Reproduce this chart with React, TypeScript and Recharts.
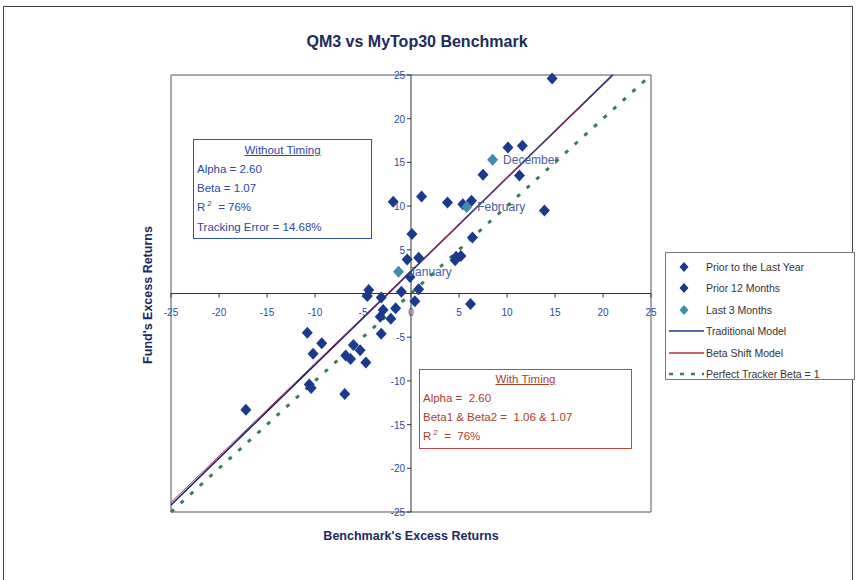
import { ScatterChart, Scatter, XAxis, YAxis, ReferenceLine, Legend, LabelList } from 'recharts';

const axisTicks = [-25, -20, -15, -10, -5, 0, 5, 10, 15, 20, 25];

// Points (benchmark excess return, fund excess return)
const priorLastYear = [
  { x: 1.1, y: 11.1 }, { x: 3.8, y: 10.4 }, { x: 6.3, y: 10.6 }, { x: 0.1, y: 6.8 },
  { x: 4.7, y: 4.2 }, { x: 5.2, y: 4.3 }, { x: 4.6, y: 3.8 }, { x: 0.8, y: 4.1 },
  { x: -0.4, y: 3.9 }, { x: -0.1, y: 1.9 }, { x: 0.8, y: 0.5 }, { x: -1.0, y: 0.2 },
  { x: 0.4, y: -0.9 }, { x: -4.4, y: 0.4 }, { x: -4.55, y: -0.3 }, { x: -3.1, y: -0.45 },
  { x: -1.6, y: -1.7 }, { x: -2.9, y: -1.9 }, { x: -2.1, y: -2.9 }, { x: -3.2, y: -2.65 },
  { x: -3.1, y: -4.6 }, { x: -10.8, y: -4.5 }, { x: -10.2, y: -6.9 }, { x: -9.3, y: -5.7 },
  { x: -6.0, y: -5.9 }, { x: -6.8, y: -7.1 }, { x: -6.3, y: -7.5 }, { x: -5.3, y: -6.5 },
  { x: -4.7, y: -7.9 }, { x: -10.6, y: -10.4 }, { x: -10.4, y: -10.8 }, { x: -6.9, y: -11.5 },
  { x: -17.2, y: -13.3 }, { x: -1.85, y: 10.5 },
];
const prior12Months = [
  { x: 14.7, y: 24.6 }, { x: 10.1, y: 16.7 }, { x: 11.6, y: 16.9 }, { x: 7.5, y: 13.6 },
  { x: 11.3, y: 13.5 }, { x: 5.4, y: 10.2 }, { x: 13.9, y: 9.5 }, { x: 6.4, y: 6.4 },
  { x: 6.2, y: -1.2 },
];
const last3Months = [
  { x: 8.5, y: 15.3, label: 'December' },
  { x: 5.8, y: 9.9, label: 'February' },
  { x: -1.3, y: 2.5, label: 'January' },
];

// model lines, end points
const traditionalModel = [{ x: -25, y: -24.2 }, { x: 21, y: 25 }];
const betaShiftModel = [{ x: -25, y: -23.9 }, { x: 0, y: 2.6 }, { x: 21.1, y: 25 }];
const perfectTracker = [{ x: -25, y: -25 }, { x: 25, y: 25 }];

const NAVY = '#1b3a8e';
const TEAL = '#3f8cab';
const TICK_BLUE = '#2b4aa6';
const FONT = '"Liberation Sans", Arial, sans-serif';

const legendItems = [
  { name: 'Prior to the Last Year', kind: 'diamond', color: NAVY },
  { name: 'Prior 12 Months', kind: 'diamond', color: NAVY },
  { name: 'Last 3 Months', kind: 'diamond', color: TEAL },
  { name: 'Traditional Model', kind: 'line', color: '#22358f' },
  { name: 'Beta Shift Model', kind: 'line', color: '#b5323a' },
  { name: 'Perfect Tracker Beta = 1', kind: 'dash', color: '#3a7d55' },
];

function Diamond(props: any) {
  const { cx, cy, fill } = props;
  if (cx == null || cy == null) return null;
  return <polygon points={`${cx},${cy - 6} ${cx + 5.5},${cy} ${cx},${cy + 6} ${cx - 5.5},${cy}`} fill={fill} />;
}

// x ticks sit on the y = 0 line, half the plot height above the bottom edge
function XTick(props: any) {
  const { x, y, payload } = props;
  const zeroY = y - 218.5;
  return (
    <g>
      <line x1={x} x2={x} y1={zeroY} y2={zeroY + 4} stroke="#333" />
      <text x={x} y={zeroY + 22} textAnchor="middle" fill={TICK_BLUE} fontSize={10} fontFamily={FONT}>{payload.value}</text>
    </g>
  );
}

// y ticks sit on the x = 0 line, half the plot width right of the left edge
function YTick(props: any) {
  const { x, y, payload } = props;
  const zeroX = x + 240;
  return (
    <g>
      <line x1={zeroX - 4} x2={zeroX} y1={y} y2={y} stroke="#333" />
      {payload.value !== 0 && (
        <text x={zeroX - 6} y={y + 4} textAnchor="end" fill={TICK_BLUE} fontSize={10} fontFamily={FONT}>{payload.value}</text>
      )}
    </g>
  );
}

function LegendBox() {
  return (
    <div style={{ border: '1px solid #777', background: '#fff', padding: '3px 0 0 0', fontFamily: FONT, fontSize: 10.5, color: '#333', height: 128, boxSizing: 'border-box' }}>
      {legendItems.map((item) => (
        <div key={item.name} style={{ display: 'flex', alignItems: 'center', height: 21.5 }}>
          <svg width={40} height={12}>
            {item.kind === 'diamond' && <polygon points="18,1 22.5,6 18,11 13.5,6" fill={item.color} />}
            {item.kind === 'line' && <line x1={3} x2={38} y1={6} y2={6} stroke={item.color} strokeWidth={1.5} />}
            {item.kind === 'dash' && <line x1={3} x2={38} y1={6} y2={6} stroke={item.color} strokeWidth={2.5} strokeDasharray="4 7" />}
          </svg>
          <span>{item.name}</span>
        </div>
      ))}
    </div>
  );
}

const boxText = { fontFamily: FONT, fontSize: 11.5, lineHeight: '19px' };
const sup = { position: 'relative' as const, top: -5, fontSize: 8, marginLeft: 2 };

export default function App() {
  return (
    <div style={{ position: 'absolute', left: 0, top: 0, width: 858, height: 580, background: '#fff' }}>
      <div style={{ position: 'absolute', left: 3, top: 6, width: 848, height: 580, borderTop: '1px solid #444', borderLeft: '1px solid #444', borderRight: '1px solid #444' }} />
      <div style={{ position: 'absolute', left: 0, width: 834, top: 33, textAlign: 'center', fontFamily: FONT, fontWeight: 'bold', fontSize: 16, color: '#1c2a5e' }}>
        QM3 vs MyTop30 Benchmark
      </div>
      <div style={{ position: 'absolute', left: 211, width: 400, top: 529, textAlign: 'center', fontFamily: FONT, fontWeight: 'bold', fontSize: 12.5, color: '#1c2a5e' }}>
        Benchmark's Excess Returns
      </div>
      <div style={{ position: 'absolute', left: 148, top: 296, width: 0, height: 0 }}>
        <div style={{ position: 'absolute', left: -100, top: -8, width: 200, textAlign: 'center', transform: 'rotate(-90deg)', fontFamily: FONT, fontWeight: 'bold', fontSize: 12.5, color: '#1c2a5e' }}>
          Fund's Excess Returns
        </div>
      </div>

      <ScatterChart width={858} height={580} margin={{ top: 75, right: 207, bottom: 67, left: 170 }} style={{ position: 'absolute', left: 0, top: 0 }}>
        <XAxis type="number" dataKey="x" domain={[-25, 25]} ticks={axisTicks} height={1} tickSize={0} tickMargin={0} axisLine={false} tickLine={false} tick={(p: any) => <XTick {...p} />} interval={0} />
        <YAxis type="number" dataKey="y" domain={[-25, 25]} ticks={axisTicks} width={1} tickSize={0} tickMargin={0} axisLine={false} tickLine={false} tick={(p: any) => <YTick {...p} />} interval={0} />
        <ReferenceLine x={-25} stroke="#555" />
        <ReferenceLine x={25} stroke="#555" />
        <ReferenceLine y={-25} stroke="#555" />
        <ReferenceLine y={25} stroke="#555" />
        <ReferenceLine x={0} stroke="#333" />
        <ReferenceLine y={0} stroke="#333" />
        <Legend
          layout="vertical"
          align="center"
          verticalAlign="middle"
          content={() => <LegendBox />}
          wrapperStyle={{ position: 'absolute', left: 665, top: 252, width: 190 }}
        />
        <Scatter name="Perfect Tracker Beta = 1" data={perfectTracker} line={{ stroke: '#3a7d55', strokeWidth: 3, strokeDasharray: '4 9' }} lineType="joint" shape={() => <g />} isAnimationActive={false} legendType="none" />
        <Scatter name="Traditional Model" data={traditionalModel} line={{ stroke: '#1c1f5c', strokeWidth: 1.6 }} lineType="joint" shape={() => <g />} isAnimationActive={false} legendType="none" />
        <Scatter name="Beta Shift Model" data={betaShiftModel} line={{ stroke: '#a3356e', strokeWidth: 1 }} lineType="joint" shape={() => <g />} isAnimationActive={false} legendType="none" />
        <Scatter name="Prior to the Last Year" data={priorLastYear} fill={NAVY} shape={(p: any) => <Diamond {...p} fill={NAVY} />} isAnimationActive={false} />
        <Scatter name="Prior 12 Months" data={prior12Months} fill={NAVY} shape={(p: any) => <Diamond {...p} fill={NAVY} />} isAnimationActive={false} />
        <Scatter name="Last 3 Months" data={last3Months} fill={TEAL} shape={(p: any) => <Diamond {...p} fill={TEAL} />} isAnimationActive={false}>
          <LabelList dataKey="label" position="right" offset={6} fill="#4b5ba6" fontSize={12} fontFamily={FONT} />
        </Scatter>
      </ScatterChart>

      <div style={{ position: 'absolute', left: 193, top: 139, width: 179, height: 100, boxSizing: 'border-box', border: '1px solid #3352a8', background: '#fff', color: '#2b48a6', padding: '1px 3px', ...boxText }}>
        <div style={{ textAlign: 'center', textDecoration: 'underline' }}>Without Timing</div>
        <div>Alpha = 2.60</div>
        <div>Beta = 1.07</div>
        <div>R<span style={sup}>2</span> &nbsp;= 76%</div>
        <div>Tracking Error = 14.68%</div>
      </div>

      <div style={{ position: 'absolute', left: 419, top: 369, width: 213, height: 80, boxSizing: 'border-box', border: '1px solid #bb4a48', background: '#fff', color: '#ad3d2e', padding: '0px 3px', ...boxText }}>
        <div style={{ textAlign: 'center', textDecoration: 'underline' }}>With Timing</div>
        <div>Alpha = &nbsp;2.60</div>
        <div>Beta1 &amp; Beta2 = &nbsp;1.06 &amp; 1.07</div>
        <div>R<span style={sup}>2</span> &nbsp;= &nbsp;76%</div>
      </div>
    </div>
  );
}
